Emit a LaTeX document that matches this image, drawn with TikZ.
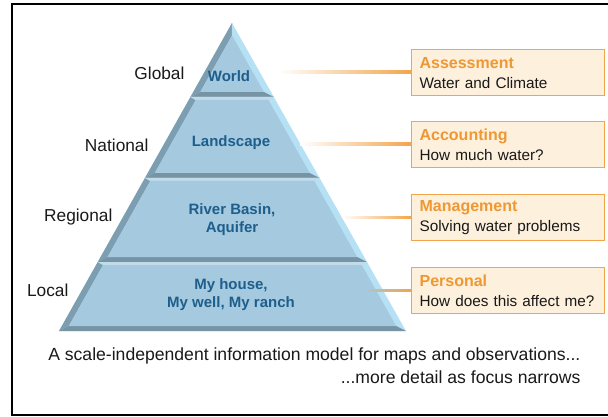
\documentclass[tikz,border=0pt]{standalone}
\usepackage{fontspec}
\setmainfont{Liberation Sans}

\definecolor{pyrface}{RGB}{165,202,223}
\definecolor{pyrleft}{RGB}{124,158,176}
\definecolor{pyrright}{RGB}{182,225,244}
\definecolor{pyrbottom}{RGB}{118,148,164}
\definecolor{pyrtop}{RGB}{192,219,233}
\definecolor{pyrtext}{RGB}{30,94,140}
\definecolor{boxline}{RGB}{242,165,75}
\definecolor{boxfill}{RGB}{253,240,220}
\definecolor{boxtitle}{RGB}{238,152,52}

% one beveled band of the pyramid: top y, bottom y, depth of top bevel
\newcommand{\pyrtier}[3]{%
\fill[pyrright] ({xl(#1)},#1) -- ({xr(#1)},#1) -- ({xr(#2)},#2) -- ({xl(#2)},#2) -- cycle;
\fill[pyrleft] ({xl(#1)},#1) -- ({xl(#1+#3)+7},{#1+#3}) -- ({xl(#2-5)+7},{#2-5}) -- ({xl(#2)},#2) -- cycle;
\fill[pyrbottom] ({xl(#2)},#2) -- ({xl(#2-5)+7},{#2-5}) -- ({xr(#2-5)-7},{#2-5}) -- ({xr(#2)},#2) -- cycle;
\fill[pyrtop] ({xl(#1)},#1) -- ({xr(#1)},#1) -- ({xr(#1+#3)-7},{#1+#3}) -- ({xl(#1+#3)+7},{#1+#3}) -- cycle;
\fill[pyrface] ({xl(#1+#3)+7},{#1+#3}) -- ({xr(#1+#3)-7},{#1+#3}) -- ({xr(#2-5)-7},{#2-5}) -- ({xl(#2-5)+7},{#2-5}) -- cycle;
}
\newcommand{\boxhead}[1]{\textcolor{boxtitle}{\fontsize{16}{20}\selectfont\bfseries #1}}

\begin{document}
\begin{tikzpicture}[x=1pt,y=-1pt,
  declare function={xl(\t)=232-0.5617*(\t-23); xr(\t)=232+0.5649*(\t-23);},
  level/.style={anchor=east,font=\fontsize{17.3}{20}\selectfont,text=black!90},
  tier/.style={text=pyrtext,font=\fontsize{15}{18}\selectfont\bfseries,align=center},
  infobox/.style={draw=boxline,fill=boxfill,line width=1.2pt,anchor=north west,
    minimum width=193pt,minimum height=46pt,text width=177pt,inner xsep=8pt,inner ysep=0pt,
    align=left,font=\fontsize{15.3}{20}\selectfont,text=black!90},
  link/.style={left color=#1,right color=boxline,shading angle=90},
  link/.default=white]
\useasboundingbox (0,0) rectangle (608,417);
\draw[line width=2.5pt] (12,4) rectangle (620,415);

\pyrtier{23}{97}{12.5}
\pyrtier{97}{178}{3}
\pyrtier{178}{262}{3}
\pyrtier{262}{331}{3}

\node [tier] (world) at (229,76) {World};
\node [tier] (land) at (231,143) {Landscape};
\node [tier] (basin) at (232,220) {River Basin,\\Aquifer};
\node [tier] (house) at (231,295) {My house,\\My well, My ranch};

\node [level] (global) at (188,73) {Global};
\node [level] (national) at (152,145) {National};
\node [level] (regional) at (116,217) {Regional};
\node [level] (local) at (72,290) {Local};

\node [infobox] (assess) at (411,49) {\boxhead{Assessment}\\Water and Climate};
\node [infobox] (account) at (411,121) {\boxhead{Accounting}\\How much water?};
\node [infobox] (manage) at (411,194) {\boxhead{Management}\\Solving water problems};
\node [infobox] (person) at (411,267) {\boxhead{Personal}\\How does this affect me?};

\coordinate (s1) at (277,72);
\coordinate (s2) at (300,144);
\coordinate (s3) at (342,217);
\coordinate (s4) at (360,290);
\shade [link] ([yshift=1pt]s1) rectangle ([yshift=-1pt]assess.west);
\shade [link] ([yshift=1pt]s2) rectangle ([yshift=-1pt]account.west);
\shade [link] ([yshift=1pt]s3) rectangle ([yshift=-1pt]manage.west);
\shade [link=pyrface] ([yshift=1pt]s4) rectangle ([yshift=-1pt]person.west);

\node [anchor=east,align=right,font=\fontsize{17.6}{23}\selectfont,text=black!90] (caption) at (584,366)
  {A scale-independent information model for maps and observations...\\...more detail as focus narrows};
\end{tikzpicture}
\end{document}
